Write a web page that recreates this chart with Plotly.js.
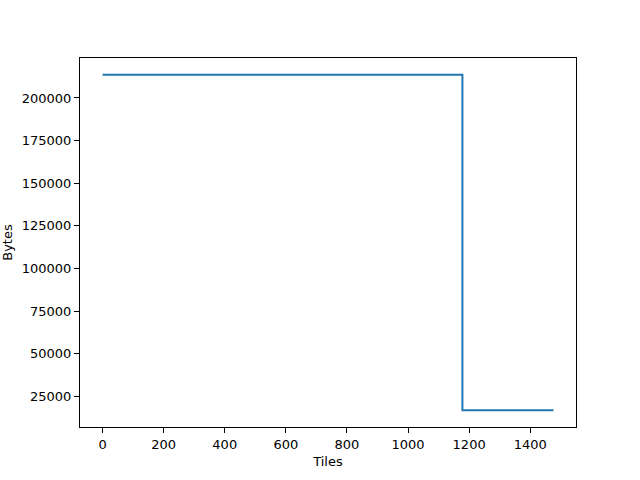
<!DOCTYPE html>
<html>
<head>
<meta charset="utf-8">
<script src="https://cdn.plot.ly/plotly-3.0.1.min.js"></script>
<style>
  html, body { margin: 0; padding: 0; background: #fff; }
  #chart { width: 640px; height: 480px; }
</style>
</head>
<body>
<div id="chart"></div>
<script>
// step points: full tiles until ~1178, then the small trailing tiles
var tiles = [0, 1178, 1476];
var bytes = [213600, 16800, 16800];

var xTicks = [0, 200, 400, 600, 800, 1000, 1200, 1400];
var yTicks = [25000, 50000, 75000, 100000, 125000, 150000, 175000, 200000];

var trace = {
  x: tiles,
  y: bytes,
  type: 'scatter',
  mode: 'lines',
  line: { shape: 'hv', color: '#1f77b4', width: 2 }
};

var axisStyle = {
  showgrid: false,
  zeroline: false,
  showline: true,
  mirror: true,
  linecolor: '#000',
  linewidth: 1,
  ticks: 'outside',
  ticklen: 5,
  tickwidth: 1,
  tickcolor: '#000',
  tickfont: { family: 'DejaVu Sans', size: 13, color: '#000' }
};

var layout = {
  width: 640,
  height: 480,
  margin: { l: 80, r: 64, t: 58, b: 53 },
  paper_bgcolor: '#fff',
  plot_bgcolor: '#fff',
  showlegend: false,
  font: { family: 'DejaVu Sans', size: 13, color: '#000' },
  xaxis: Object.assign({}, axisStyle, {
    range: [-73.8, 1549.8],
    tickvals: xTicks,
    ticktext: xTicks.map(String),
    title: { text: 'Tiles', font: { size: 13 }, standoff: 6 }
  }),
  yaxis: Object.assign({}, axisStyle, {
    range: [6960, 223440],
    tickvals: yTicks,
    ticktext: yTicks.map(String),
    title: { text: 'Bytes', font: { size: 13 }, standoff: 6 }
  })
};

Plotly.newPlot('chart', [trace], layout, { displayModeBar: false, staticPlot: true });
</script>
</body>
</html>
